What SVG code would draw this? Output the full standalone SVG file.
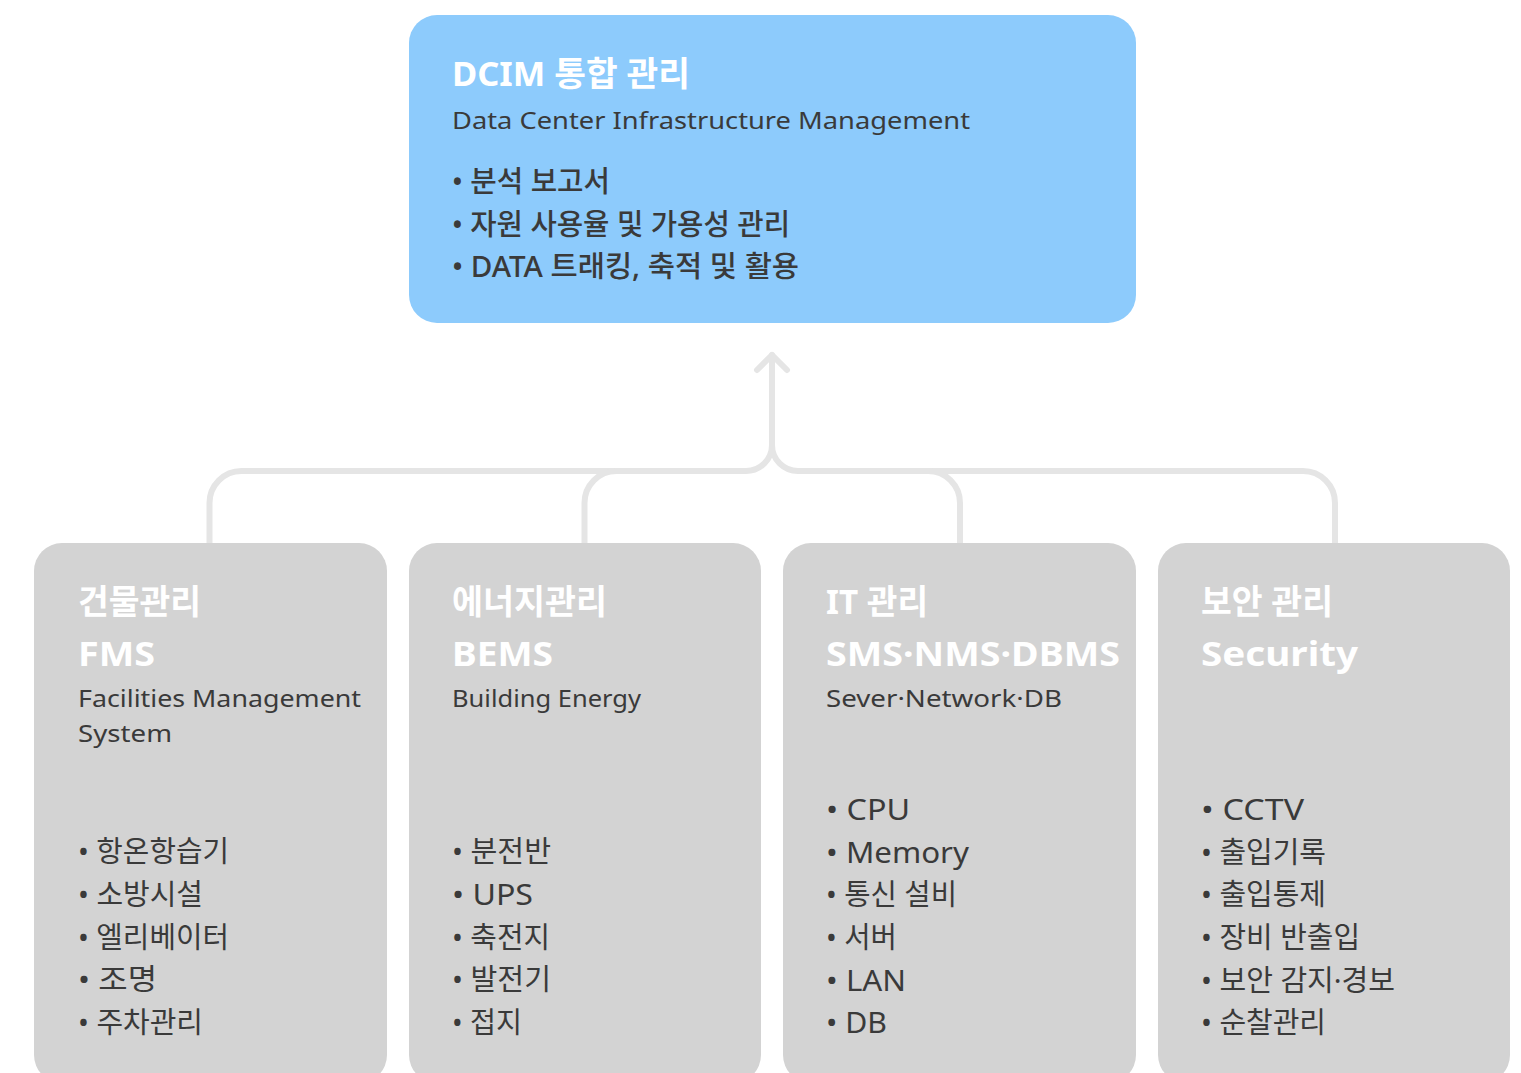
<svg xmlns="http://www.w3.org/2000/svg" width="1521" height="1073" viewBox="0 0 1521 1073">
  <style>
    .top { fill: #8dcbfc; }
    .sub { fill: #d3d3d3; }
    .conn { fill: none; stroke: #e5e5e5; stroke-width: 6; stroke-linecap: round; stroke-linejoin: round; }
    text { font-family: "Noto Sans", "Noto Sans CJK KR", sans-serif; }
    .title { fill: #ffffff; font-size: 34px; font-weight: 700; }
    .desc { fill: #3a3a3a; font-size: 24px; font-weight: 400; }
    .item { fill: #3a3a3a; font-size: 29px; font-weight: 400; }
    .item-top { fill: #3a3a3a; font-size: 29px; font-weight: 500; }
  </style>

  <rect width="1521" height="1073" fill="#ffffff"/>

  <!-- connectors: four branches joining a trunk that points up to the DCIM box -->
  <g id="connectors">
    <path class="conn" d="M209.5,543 V503 A32,32 0 0 1 241.5,471 H746 A26,26 0 0 0 772,445"/>
    <path class="conn" d="M1335,543 V503 A32,32 0 0 0 1303,471 H798 A26,26 0 0 1 772,445"/>
    <path class="conn" d="M584.5,543 V503 A32,32 0 0 1 616.5,471"/>
    <path class="conn" d="M960,543 V503 A32,32 0 0 0 928,471"/>
    <path class="conn" d="M772,445 V355"/>
    <path class="conn" d="M757,370 L772,355 L787,370"/>
  </g>

  <!-- DCIM integrated management -->
  <g id="dcim">
    <rect class="top" x="409" y="15" width="727" height="308" rx="28"/>
    <text class="title" x="452" y="86" textLength="238" lengthAdjust="spacingAndGlyphs">DCIM 통합 관리</text>
    <text class="desc" x="452" y="129" textLength="518" lengthAdjust="spacingAndGlyphs">Data Center Infrastructure Management</text>
    <text class="item-top" x="452" y="192" textLength="158" lengthAdjust="spacingAndGlyphs">• 분석 보고서</text>
    <text class="item-top" x="452" y="235" textLength="338" lengthAdjust="spacingAndGlyphs">• 자원 사용율 및 가용성 관리</text>
    <text class="item-top" x="452" y="277" textLength="347" lengthAdjust="spacingAndGlyphs">• DATA 트래킹, 축적 및 활용</text>
  </g>

  <!-- Building management -->
  <g id="fms">
    <rect class="sub" x="34" y="543" width="353" height="540" rx="28"/>
    <text class="title" x="78" y="614" textLength="123" lengthAdjust="spacingAndGlyphs">건물관리</text>
    <text class="title" x="78" y="666" textLength="77" lengthAdjust="spacingAndGlyphs">FMS</text>
    <text class="desc" x="78" y="707" textLength="283" lengthAdjust="spacingAndGlyphs">Facilities Management</text>
    <text class="desc" x="78" y="742" textLength="94" lengthAdjust="spacingAndGlyphs">System</text>
    <text class="item" x="78" y="862" textLength="151" lengthAdjust="spacingAndGlyphs">• 항온항습기</text>
    <text class="item" x="78" y="905" textLength="125" lengthAdjust="spacingAndGlyphs">• 소방시설</text>
    <text class="item" x="78" y="948" textLength="151" lengthAdjust="spacingAndGlyphs">• 엘리베이터</text>
    <text class="item" x="78" y="990" textLength="79" lengthAdjust="spacingAndGlyphs">• 조명</text>
    <text class="item" x="78" y="1033" textLength="125" lengthAdjust="spacingAndGlyphs">• 주차관리</text>
  </g>

  <!-- Energy management -->
  <g id="bems">
    <rect class="sub" x="409" y="543" width="352" height="540" rx="28"/>
    <text class="title" x="452" y="614" textLength="155" lengthAdjust="spacingAndGlyphs">에너지관리</text>
    <text class="title" x="452" y="666" textLength="101" lengthAdjust="spacingAndGlyphs">BEMS</text>
    <text class="desc" x="452" y="707" textLength="189" lengthAdjust="spacingAndGlyphs">Building Energy</text>
    <text class="item" x="452" y="862" textLength="99" lengthAdjust="spacingAndGlyphs">• 분전반</text>
    <text class="item" x="452" y="905" textLength="81" lengthAdjust="spacingAndGlyphs">• UPS</text>
    <text class="item" x="452" y="948" textLength="98" lengthAdjust="spacingAndGlyphs">• 축전지</text>
    <text class="item" x="452" y="990" textLength="99" lengthAdjust="spacingAndGlyphs">• 발전기</text>
    <text class="item" x="452" y="1033" textLength="70" lengthAdjust="spacingAndGlyphs">• 접지</text>
  </g>

  <!-- IT management -->
  <g id="it">
    <rect class="sub" x="783" y="543" width="353" height="540" rx="28"/>
    <text class="title" x="826" y="614" textLength="102" lengthAdjust="spacingAndGlyphs">IT 관리</text>
    <text class="title" x="826" y="666" textLength="294" lengthAdjust="spacingAndGlyphs">SMS·NMS·DBMS</text>
    <text class="desc" x="826" y="707" textLength="236" lengthAdjust="spacingAndGlyphs">Sever·Network·DB</text>
    <text class="item" x="826" y="820" textLength="84" lengthAdjust="spacingAndGlyphs">• CPU</text>
    <text class="item" x="826" y="863" textLength="143" lengthAdjust="spacingAndGlyphs">• Memory</text>
    <text class="item" x="826" y="905" textLength="131" lengthAdjust="spacingAndGlyphs">• 통신 설비</text>
    <text class="item" x="826" y="948" textLength="71" lengthAdjust="spacingAndGlyphs">• 서버</text>
    <text class="item" x="826" y="991" textLength="80" lengthAdjust="spacingAndGlyphs">• LAN</text>
    <text class="item" x="826" y="1033" textLength="61" lengthAdjust="spacingAndGlyphs">• DB</text>
  </g>

  <!-- Security management -->
  <g id="security">
    <rect class="sub" x="1158" y="543" width="352" height="540" rx="28"/>
    <text class="title" x="1201" y="614" textLength="132" lengthAdjust="spacingAndGlyphs">보안 관리</text>
    <text class="title" x="1201" y="666" textLength="157" lengthAdjust="spacingAndGlyphs">Security</text>
    <text class="item" x="1201" y="820" textLength="103" lengthAdjust="spacingAndGlyphs">• CCTV</text>
    <text class="item" x="1201" y="863" textLength="125" lengthAdjust="spacingAndGlyphs">• 출입기록</text>
    <text class="item" x="1201" y="905" textLength="125" lengthAdjust="spacingAndGlyphs">• 출입통제</text>
    <text class="item" x="1201" y="948" textLength="159" lengthAdjust="spacingAndGlyphs">• 장비 반출입</text>
    <text class="item" x="1201" y="991" textLength="194" lengthAdjust="spacingAndGlyphs">• 보안 감지·경보</text>
    <text class="item" x="1201" y="1033" textLength="125" lengthAdjust="spacingAndGlyphs">• 순찰관리</text>
  </g>
</svg>
